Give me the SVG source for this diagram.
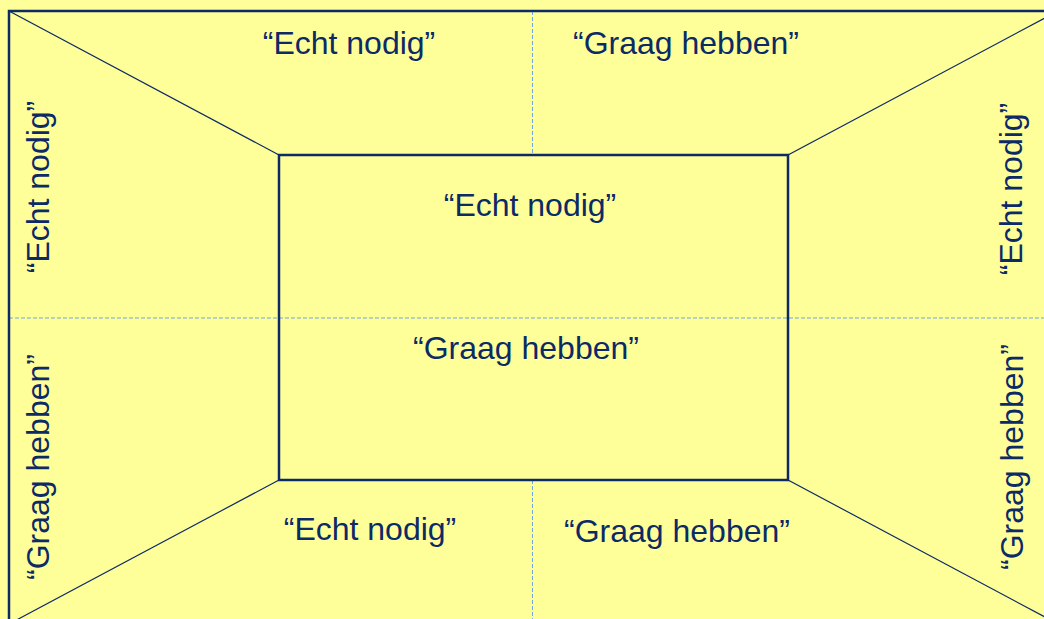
<svg xmlns="http://www.w3.org/2000/svg" width="1044" height="619" viewBox="0 0 1044 619">
<style>
.lbl{font-family:"Liberation Sans",Arial,sans-serif;font-size:32px;fill:#0c2a66;text-anchor:middle}
.frame{fill:none;stroke:#0c2a66;stroke-width:2.5}
.diag{stroke:#0c2a66;stroke-width:1.2}
.dash{stroke:#6fa8dc;stroke-width:1;stroke-dasharray:4 2}
</style>
<rect x="0" y="0" width="1044" height="619" fill="#ffff99"/>
<g id="connectors">
<line class="dash" x1="532.5" y1="11" x2="532.5" y2="155"/>
<line class="dash" x1="532.5" y1="480" x2="532.5" y2="619"/>
<line class="dash" x1="9" y1="318" x2="1044" y2="318"/>
<line class="diag" x1="9" y1="11" x2="279" y2="155"/>
<line class="diag" x1="1058" y1="11" x2="788" y2="155"/>
<line class="diag" x1="279" y1="480" x2="9" y2="624"/>
<line class="diag" x1="788" y1="480" x2="1058" y2="624"/>
</g>
<g id="outer">
<rect class="frame" x="9" y="11" width="1049" height="613"/>
</g>
<g id="inner">
<rect class="frame" x="279" y="155" width="509" height="325"/>
</g>
<g id="top-echt"><text class="lbl" x="349" y="54">“Echt nodig”</text></g>
<g id="top-graag"><text class="lbl" x="686" y="54">“Graag hebben”</text></g>
<g id="center-echt"><text class="lbl" x="530" y="216">“Echt nodig”</text></g>
<g id="center-graag"><text class="lbl" x="526" y="359">“Graag hebben”</text></g>
<g id="bottom-echt"><text class="lbl" x="370" y="540">“Echt nodig”</text></g>
<g id="bottom-graag"><text class="lbl" x="677" y="542">“Graag hebben”</text></g>
<g id="left-echt"><text class="lbl" transform="translate(49,187) rotate(-90)">“Echt nodig”</text></g>
<g id="left-graag"><text class="lbl" transform="translate(49,467) rotate(-90)">“Graag hebben”</text></g>
<g id="right-echt"><text class="lbl" transform="translate(1022,189) rotate(-90)">“Echt nodig”</text></g>
<g id="right-graag"><text class="lbl" transform="translate(1023,457) rotate(-90)">“Graag hebben”</text></g>
</svg>
